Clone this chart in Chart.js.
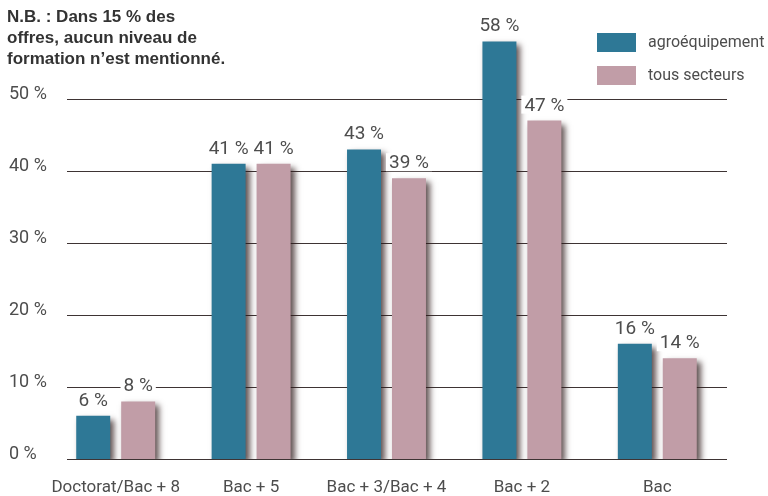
<!DOCTYPE html>
<html>
<head>
<meta charset="utf-8">
<script src="https://cdn.jsdelivr.net/npm/chart.js@4"></script>
<style>
  html, body { margin: 0; padding: 0; background: #fff; }
  #wrap { width: 768px; height: 496px; position: relative; }
</style>
</head>
<body>
<div id="wrap"><canvas id="niveauChart"></canvas></div>
<script>
// Data
const categories = ['Doctorat/Bac + 8', 'Bac + 5', 'Bac + 3/Bac + 4', 'Bac + 2', 'Bac'];
const agroequipement = [6, 41, 43, 58, 16];
const tousSecteurs = [8, 41, 39, 47, 14];
const seriesNames = ['agroéquipement', 'tous secteurs'];
const noteLines = ['N.B. : Dans 15 % des', 'offres, aucun niveau de', 'formation n’est mentionné.'];

const TEAL = '#2e7896';
const PINK = '#c19da7';
const TEXT = '#4d4d4d';
const FONT = 'Roboto';

// bar shadows
const shadowPlugin = {
  id: 'barShadow',
  beforeDatasetsDraw(chart) {
    const ctx = chart.ctx;
    ctx.save();
    ctx.shadowColor = 'rgba(45, 25, 25, 0.75)';
    ctx.shadowBlur = 6;
    ctx.shadowOffsetX = 4;
    ctx.shadowOffsetY = 4;
  },
  afterDatasetsDraw(chart) {
    chart.ctx.restore();
  }
};

// horizontal grid lines, starting a bit right of the chart area
const gridPlugin = {
  id: 'hGrid',
  beforeDatasetsDraw(chart) {
    const ctx = chart.ctx;
    const y = chart.scales.y;
    const area = chart.chartArea;
    ctx.save();
    ctx.strokeStyle = '#3e3434';
    ctx.lineWidth = 1;
    y.ticks.forEach(t => {
      if (t.value > 50) return;
      const py = Math.round(y.getPixelForValue(t.value)) + 0.5;
      ctx.beginPath();
      ctx.moveTo(area.left + 19, py);
      ctx.lineTo(area.right + 2, py);
      ctx.stroke();
    });
    ctx.restore();
  }
};

// value labels over bars, white background
const valuePlugin = {
  id: 'values',
  afterDatasetsDraw(chart) {
    const ctx = chart.ctx;
    ctx.save();
    ctx.font = '19px ' + FONT;
    ctx.textAlign = 'center';
    ctx.textBaseline = 'alphabetic';
    chart.data.datasets.forEach((ds, i) => {
      chart.getDatasetMeta(i).data.forEach((bar, j) => {
        const txt = ds.data[j] + ' %';
        const w = ctx.measureText(txt).width;
        const base = bar.y - 10;
        ctx.fillStyle = '#fff';
        ctx.fillRect(bar.x - w / 2 - 3, base - 15, w + 6, 18);
        ctx.fillStyle = TEXT;
        ctx.fillText(txt, bar.x, base);
      });
    });
    ctx.restore();
  }
};

// note top-left + legend top-right
const textPlugin = {
  id: 'texts',
  afterDraw(chart) {
    const ctx = chart.ctx;
    ctx.save();
    ctx.fillStyle = '#333';
    ctx.font = 'bold 17px "Liberation Sans"';
    ctx.textAlign = 'left';
    ctx.textBaseline = 'alphabetic';
    noteLines.forEach((l, i) => ctx.fillText(l, 7, 22 + i * 21));

    ctx.font = '16px ' + FONT;
    ctx.textBaseline = 'middle';
    chart.data.datasets.forEach((ds, i) => {
      const top = 33 + i * 33;
      ctx.fillStyle = ds.backgroundColor;
      ctx.fillRect(597, top, 39, 19);
      ctx.fillStyle = TEXT;
      ctx.fillText(ds.label, 648, top + 10);
    });
    ctx.restore();
  }
};

const ctx = document.getElementById('niveauChart').getContext('2d');
new Chart(ctx, {
  type: 'bar',
  data: {
    labels: categories,
    datasets: [
      { label: seriesNames[0], data: agroequipement, backgroundColor: TEAL },
      { label: seriesNames[1], data: tousSecteurs, backgroundColor: PINK }
    ]
  },
  options: {
    responsive: true,
    maintainAspectRatio: false,
    animation: false,
    layout: { padding: { left: 9, right: 43, top: 27, bottom: 0 } },
    datasets: {
      bar: { categoryPercentage: 0.664, barPercentage: 0.756 }
    },
    plugins: {
      legend: { display: false },
      tooltip: { enabled: false }
    },
    scales: {
      x: {
        grid: { display: false, drawTicks: false },
        border: { display: false },
        ticks: { color: TEXT, font: { family: FONT, size: 17 }, padding: 19 },
        afterFit(scale) { scale.height = 37; }
      },
      y: {
        min: 0,
        max: 60,
        grid: { display: false, drawTicks: false },
        border: { display: false },
        ticks: {
          stepSize: 10,
          crossAlign: 'far',
          color: TEXT,
          font: { family: FONT, size: 18, lineHeight: '9px' },
          callback: v => v > 50 ? '' : [v + ' %', '']
        },
        afterFit(scale) { scale.width = 39; }
      }
    }
  },
  plugins: [gridPlugin, shadowPlugin, valuePlugin, textPlugin]
});
</script>
</body>
</html>
